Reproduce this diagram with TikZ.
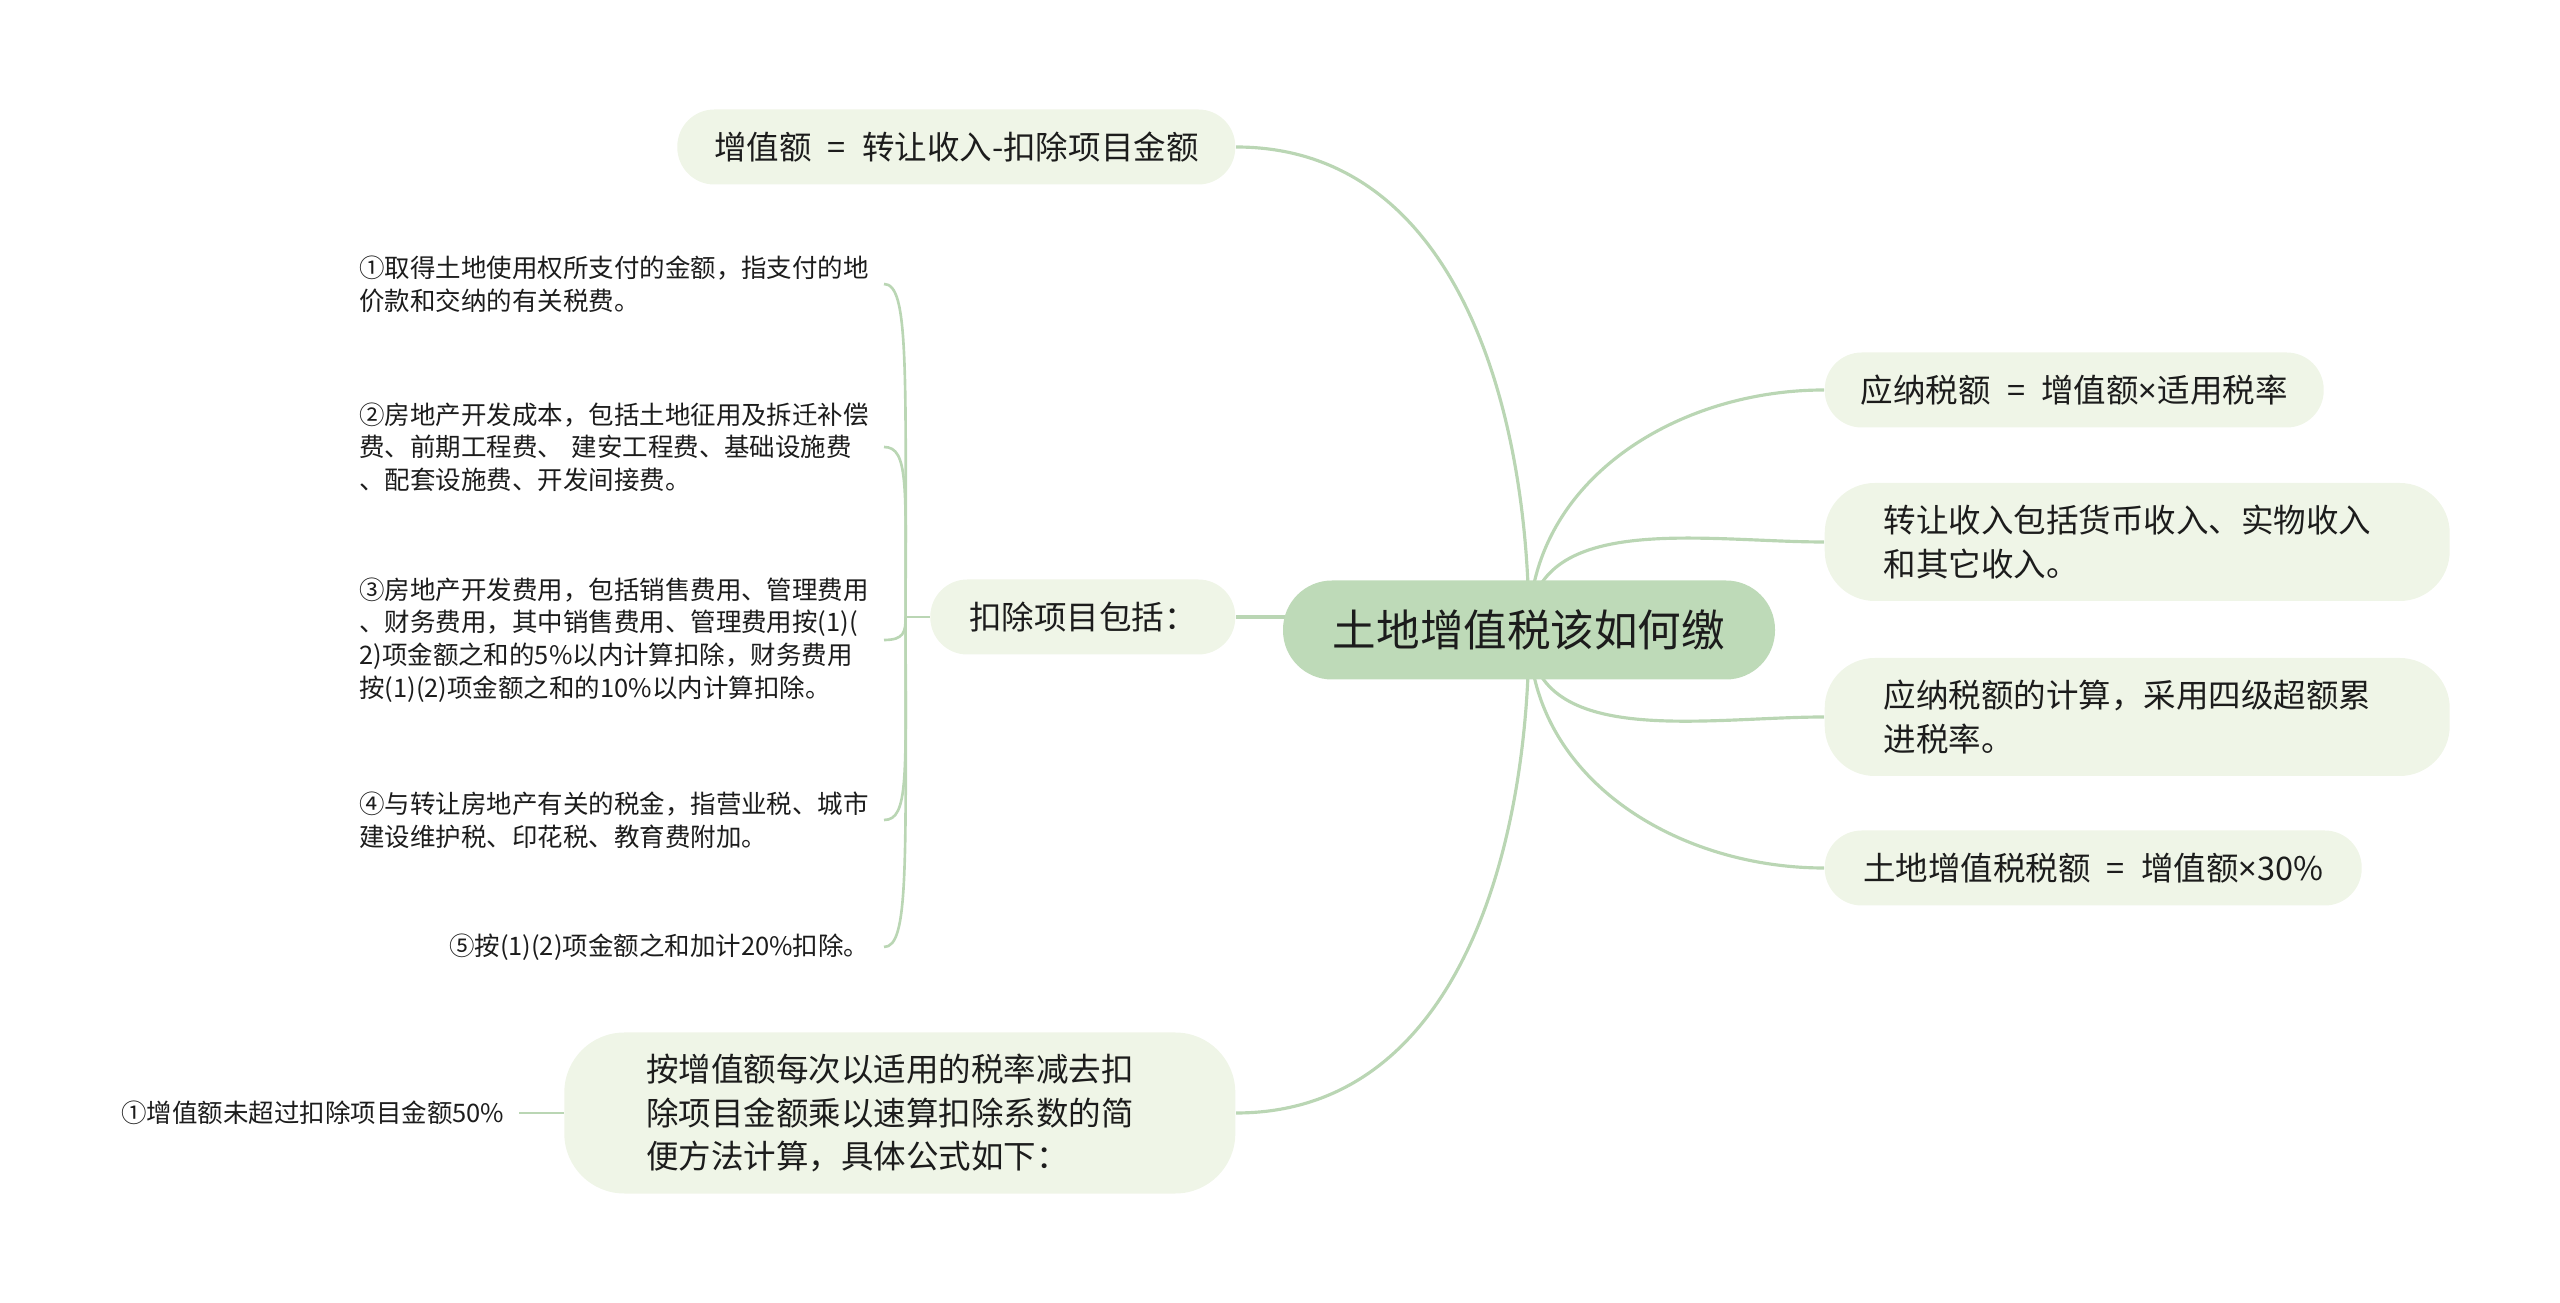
\documentclass[tikz,border=0pt]{standalone}
\usepackage{fontspec}
\setmainfont{Noto Sans CJK SC}
\newfontfamily\latinfont{Noto Sans}
\usetikzlibrary{positioning,backgrounds}
\definecolor{rootgreen}{RGB}{190,218,184}
\definecolor{palegreen}{RGB}{239,245,231}
\definecolor{linkgreen}{RGB}{186,214,180}
\definecolor{inkgray}{RGB}{28,28,28}
\newcommand{\eqsign}{\enspace=\enspace}
\newcommand{\timessign}{{\latinfont ×}}

\begin{document}
\begin{tikzpicture}[
  root/.style={fill=rootgreen, rounded corners=4.9mm, minimum width=49.2mm, minimum height=9.9mm, text=inkgray, font=\fontsize{12.4}{15}\selectfont},
  topic/.style={fill=palegreen, rounded corners=3.7mm, minimum height=7.5mm, align=left, text=inkgray, font=\fontsize{9.25}{12.5}\selectfont},
  leaf/.style={inner xsep=1.4mm, inner ysep=1mm, align=left, text=inkgray, font=\fontsize{7.25}{9.3}\selectfont},
  link/.style={draw=linkgreen, line width=.9pt},
  twig/.style={draw=linkgreen, line width=.75pt}
]
\useasboundingbox (0,0) rectangle (25.6,-13.03);

\node[root] (root) at (15.29,-6.30) {土地增值税该如何缴};

\node[topic, anchor=east, minimum width=55.8mm] (gain) at (12.36,-1.47) {增值额\eqsign{}转让收入-扣除项目金额};
\node[topic, anchor=east, minimum width=30.5mm] (deduct) at (12.36,-6.17) {扣除项目包括：};
\node[topic, anchor=east, text width=50.7mm, inner xsep=8.2mm, minimum height=16.1mm, rounded corners=6mm] (quick) at (12.36,-11.13)
  {按增值额每次以适用的税率减去扣\\除项目金额乘以速算扣除系数的简\\便方法计算，具体公式如下：};

\node[topic, anchor=west, minimum width=49.9mm] (rate) at (18.24,-3.90) {应纳税额\eqsign{}增值额\timessign{}适用税率};
\node[topic, anchor=west, text width=50.7mm, inner xsep=5.9mm, minimum height=11.8mm, rounded corners=5mm] (income) at (18.24,-5.42)
  {转让收入包括货币收入、实物收入\\和其它收入。};
\node[topic, anchor=west, text width=50.7mm, inner xsep=5.9mm, minimum height=11.8mm, rounded corners=5mm] (calc) at (18.24,-7.17)
  {应纳税额的计算，采用四级超额累\\进税率。};
\node[topic, anchor=west, minimum width=53.7mm] (total) at (18.24,-8.68) {土地增值税税额\eqsign{}增值额\timessign{}30\%};

% items under the deduction node
\node[leaf, anchor=east, text width=51mm] (item1) at (8.84,-2.84)
  {①取得土地使用权所支付的金额，指支付的地\\价款和交纳的有关税费。};
\node[leaf, anchor=east, text width=51mm] (item2) at (8.84,-4.47)
  {②房地产开发成本，包括土地征用及拆迁补偿\\费、前期工程费、~建安工程费、基础设施费\\、配套设施费、开发间接费。};
\node[leaf, anchor=east, text width=51mm] (item3) at (8.84,-6.40)
  {③房地产开发费用，包括销售费用、管理费用\\、财务费用，其中销售费用、管理费用按(1)(\\2)项金额之和的5\%以内计算扣除，财务费用\\按(1)(2)项金额之和的10\%以内计算扣除。};
\node[leaf, anchor=east, text width=51mm] (item4) at (8.84,-8.20)
  {④与转让房地产有关的税金，指营业税、城市\\建设维护税、印花税、教育费附加。};
\node[leaf, anchor=east] (item5) at (8.84,-9.47) {⑤按(1)(2)项金额之和加计20\%扣除。};

\node[leaf, anchor=east] (case1) at (5.19,-11.13) {①增值额未超过扣除项目金额50\%};

\coordinate (jl) at ([xshift=-2.4mm]deduct.west);

\begin{scope}[on background layer]
\draw[link] (root.center) to[out=90,in=0] (gain.east);
\draw[link] (deduct.east) -- (deduct.east -| root.center);
\draw[link] (root.center) to[out=-90,in=0] (quick.east);
\draw[link] (root.center) to[out=90,in=180] (rate.west);
\draw[link] (root.center) to[out=90,in=180] (income.west);
\draw[link] (root.center) to[out=-90,in=180] (calc.west);
\draw[link] (root.center) to[out=-90,in=180] (total.west);
\end{scope}

% bracket of the deduction items
\draw[twig] (jl) -- (deduct.west);
\draw[twig] (jl) to[out=90,in=0,out distance=25mm,in distance=2.5mm] (item1.east);
\draw[twig] (jl) to[out=90,in=0,out distance=13mm,in distance=2.5mm] (item2.east);
\draw[twig] (jl) to[out=-90,in=0,out distance=1.5mm,in distance=2mm] (item3.east);
\draw[twig] (jl) to[out=-90,in=0,out distance=16mm,in distance=2.5mm] (item4.east);
\draw[twig] (jl) to[out=-90,in=0,out distance=25mm,in distance=2.5mm] (item5.east);
\draw[twig] (quick.west) -- (case1.east);
\end{tikzpicture}
\end{document}
